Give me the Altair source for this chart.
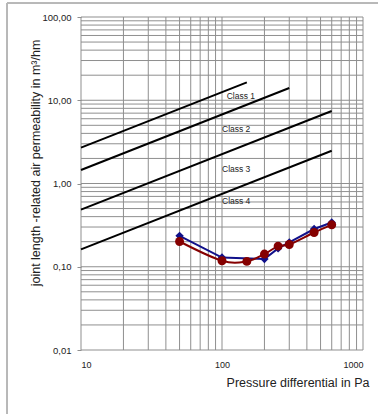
import altair as alt
import pandas as pd

# ---- data ----
class_names = ["Class 1", "Class 2", "Class 3", "Class 4"]
class_ref_100pa = [12.5, 6.75, 2.25, 0.75]   # m3/hm at 100 Pa
class_max_pa = [150, 300, 600, 600]
class_start_pa = 10
class_exponent = 2.0 / 3.0

label_x = [108, 100, 100, 100]
label_y = [11.3, 4.49, 1.49, 0.62]

blue_x = [50, 100, 200, 250, 300, 450, 600]
blue_y = [0.235, 0.129, 0.124, 0.166, 0.196, 0.284, 0.34]

red_x = [50, 100, 150, 200, 250, 300, 450, 600]
red_y = [0.201, 0.118, 0.116, 0.142, 0.177, 0.185, 0.258, 0.319]

x_grid = [10, 20, 30, 40, 50, 60, 70, 80, 90,
          100, 200, 300, 400, 500, 600, 700, 800, 900, 1000]
y_grid = [0.01, 0.02, 0.03, 0.04, 0.05, 0.06, 0.07, 0.08, 0.09,
          0.1, 0.2, 0.3, 0.4, 0.5, 0.6, 0.7, 0.8, 0.9,
          1, 2, 3, 4, 5, 6, 7, 8, 9,
          10, 20, 30, 40, 50, 60, 70, 80, 90, 100]

x_ticks = [10, 100, 1000]
y_ticks = [0.01, 0.1, 1, 10, 100]

y_title = "joint length -related air permeability in m³/hm"
x_title = "Pressure differential in Pa"

# ---- tables ----
rows = []
for n, r, m in zip(class_names, class_ref_100pa, class_max_pa):
    for p in (class_start_pa, m):
        rows.append({"cls": n, "x": p, "y": r * (p / 100.0) ** class_exponent})
class_df = pd.DataFrame(rows)
label_df = pd.DataFrame({"cls": class_names, "x": label_x, "y": label_y})
blue_df = pd.DataFrame({"x": blue_x, "y": blue_y})
red_df = pd.DataFrame({"x": red_x, "y": red_y})
xg_df = pd.DataFrame({"x": x_grid})
yg_df = pd.DataFrame({"y": y_grid})
yt_df = pd.DataFrame({"t": [y_title]})

FONT = "Liberation Sans"
GRID = "#8f8f8f"
TXT = "#222222"

xs = alt.Scale(type="log", domain=[10, 1000], nice=False)
ys = alt.Scale(type="log", domain=[0.01, 100], nice=False)

x_axis = alt.Axis(
    values=x_ticks, format="d", grid=False, ticks=False, domain=False,
    labelFont=FONT, labelFontSize=9, labelColor=TXT, labelPadding=10,
    title=x_title, titleFont=FONT, titleFontSize=12.5,
    titleFontWeight="normal", titleColor=TXT, titleAlign="right",
    titleAnchor="end", titleX=288, titleY=36, titleBaseline="alphabetic")
y_axis = alt.Axis(
    values=y_ticks, labelExpr="replace(format(datum.value, '.2f'), '.', ',')",
    grid=False, domain=False, tickSize=4, tickColor=GRID,
    labelFont=FONT, labelFontSize=9.5, labelColor=TXT, labelPadding=6,
    title=None)


def X():
    return alt.X("x:Q", scale=xs, axis=x_axis)


def Y():
    return alt.Y("y:Q", scale=ys, axis=y_axis)


xgrid = alt.Chart(xg_df).mark_rule(color=GRID, strokeWidth=1).encode(x=X())
ygrid = alt.Chart(yg_df).mark_rule(color=GRID, strokeWidth=1).encode(y=Y())

classes = alt.Chart(class_df).mark_line(color="black", strokeWidth=2).encode(
    x=X(), y=Y(), detail="cls:N")

labels = alt.Chart(label_df).mark_text(
    align="left", baseline="middle", font=FONT, fontSize=8.5, color=TXT
).encode(x=X(), y=Y(), text="cls:N")

BLUE = "#10108a"
RED = "#850000"

blue_line = alt.Chart(blue_df).mark_line(color=BLUE, strokeWidth=2).encode(
    x=X(), y=Y(), order="x:Q")
blue_pts = alt.Chart(blue_df).mark_point(
    shape="diamond", filled=True, color=BLUE, size=70, opacity=1
).encode(x=X(), y=Y())

red_line = alt.Chart(red_df).mark_line(
    color=RED, strokeWidth=2, interpolate="cardinal").encode(
    x=X(), y=Y(), order="x:Q")
red_pts = alt.Chart(red_df).mark_point(
    shape="circle", filled=True, color=RED, size=80, opacity=1
).encode(x=X(), y=Y())

# y axis title as free text
ytitle = alt.Chart(yt_df).mark_text(
    angle=270, align="center", baseline="middle", font=FONT, fontSize=12.5,
    color=TXT
).encode(x=alt.value(-45), y=alt.value(146), text="t:N")

# outer frame (decoration)
frame_top = alt.Chart(xg_df).mark_rule(color="#b8b8b8", strokeWidth=1).encode(
    x=alt.value(-74), x2=alt.value(400), y=alt.value(-14))
frame_left = alt.Chart(xg_df).mark_rule(color="#b8b8b8", strokeWidth=1).encode(
    x=alt.value(-74), y=alt.value(-14), y2=alt.value(420))

chart = alt.layer(
    xgrid, ygrid, frame_top, frame_left, ytitle, classes, labels,
    blue_line, red_line, blue_pts, red_pts
).properties(
    width=282, height=333,
    autosize=alt.AutoSizeParams(type="none"),
    padding={"left": 81, "top": 17, "right": 15, "bottom": 64},
    background="white",
).configure_view(stroke=None)

chart.save("out.html", embed_options={"renderer": "svg", "actions": False})
